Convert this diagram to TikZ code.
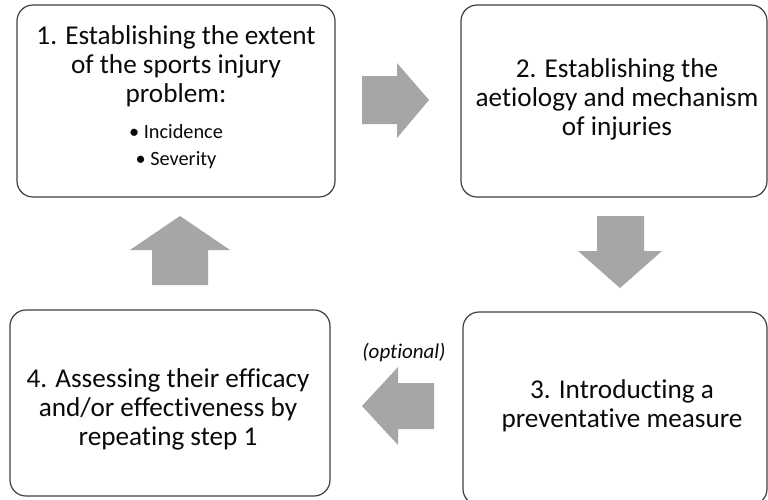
\documentclass[tikz,border=0pt]{standalone}
\usepackage{fontspec}
\setmainfont{Carlito}[Ligatures=NoCommon,RawFeature={-liga;-dlig;-clig}]
\newcommand\stk[1]{\vtop{\halign{\hfil##\hfil\cr#1\crcr}}}
\definecolor{boxline}{HTML}{404040}
\definecolor{arrowgray}{HTML}{A6A6A6}
\definecolor{txtcol}{HTML}{0A0A0A}
\begin{document}
\begin{tikzpicture}[x=1pt,y=-1pt,
  stepbox/.style={draw=boxline,line width=1.2pt,rounded corners=16pt,fill=white,inner sep=0pt},
  bigtxt/.style={font=\fontsize{27.2}{29}\selectfont,text=txtcol,inner sep=0pt,anchor=base},
  smalltxt/.style={font=\fontsize{20.3}{27}\selectfont,text=txtcol,inner sep=0pt,anchor=base},
  blockarrow/.style={fill=arrowgray,draw=none}]
\clip (0,0) rectangle (768,499);
\fill[white] (0,0) rectangle (768,499);
% boxes
\node[stepbox,minimum width=318pt,minimum height=192pt] (b1) at (176,101) {};
\node[stepbox,minimum width=306pt,minimum height=192pt] (b2) at (614,101) {};
\node[stepbox,minimum width=304pt,minimum height=193pt] (b3) at (615,408.5) {};
\node[stepbox,minimum width=320pt,minimum height=186pt] (b4) at (170,403) {};
% texts
\node[bigtxt] (t1) at (176,44) {\stk{1. Establishing the extent\cr of the sports injury\cr problem:}};
\node[smalltxt] (t1b) at (176,138) {\stk{• Incidence\cr • Severity}};
\node[bigtxt] (t2) at (617,77) {\stk{2. Establishing the\cr aetiology and mechanism\cr of injuries}};
\node[bigtxt] (t3) at (622,398) {\stk{3. Introducting a\cr preventative measure}};
\node[bigtxt] (t4) at (168,387) {\stk{4. Assessing their efficacy\cr and/or effectiveness by\cr repeating step 1}};
\node[smalltxt,font=\fontsize{21}{23}\selectfont\itshape] (opt) at (404,358) {(optional)};
% block arrows
\fill[blockarrow] (362,76) -- (397,76) -- (397,63) -- (429,100) -- (397,138) -- (397,124) -- (362,124) -- cycle;
\fill[blockarrow] (597,216) -- (644,216) -- (644,251) -- (662,251) -- (620,288) -- (578,251) -- (597,251) -- cycle;
\fill[blockarrow] (152,285) -- (208,285) -- (208,250) -- (230,250) -- (180,216) -- (130,250) -- (152,250) -- cycle;
\fill[blockarrow] (434,383) -- (434,429) -- (398,429) -- (398,445) -- (362,406) -- (398,367) -- (398,383) -- cycle;
\end{tikzpicture}
\end{document}
